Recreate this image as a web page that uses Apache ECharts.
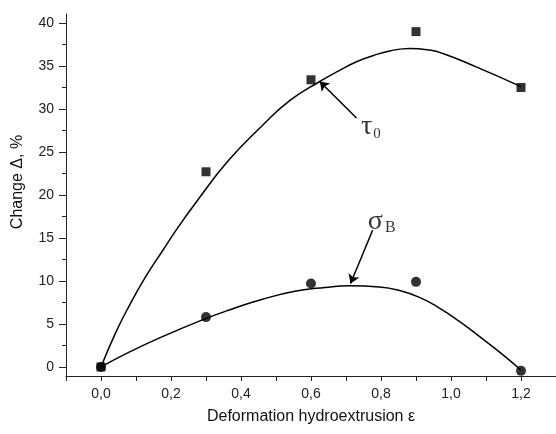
<!DOCTYPE html>
<html>
<head>
<meta charset="utf-8">
<script src="https://cdn.jsdelivr.net/npm/echarts@6/dist/echarts.min.js"></script>
<style>html,body{margin:0;padding:0;background:#fff;}#c{width:556px;height:434px;}</style>
</head>
<body>
<div id="c"></div>
<script>
// measured points
const xPts = [0, 0.3, 0.6, 0.9, 1.2];
const tauVals = [0, 22.7, 33.4, 39.0, 32.5];
const sigmaVals = [0, 5.8, 9.7, 9.9, -0.45];
// fitted curves
const tauCurveX = [0, 0.041, 0.079, 0.126, 0.174, 0.221, 0.278, 0.364, 0.459, 0.54, 0.625, 0.682, 0.73, 0.777, 0.825, 0.882, 0.939, 0.977, 1.072, 1.2];
const tauCurveY = [0, 3.9, 7.0, 10.4, 13.4, 16.3, 19.5, 24.0, 28.0, 31.0, 33.2, 34.5, 35.5, 36.2, 36.75, 37.05, 36.85, 36.45, 34.9, 32.6];
const sigmaCurveX = [0, 0.079, 0.174, 0.288, 0.364, 0.459, 0.554, 0.64, 0.71, 0.796, 0.853, 0.91, 0.967, 1.024, 1.081, 1.138, 1.2];
const sigmaCurveY = [0, 1.7, 3.5, 5.45, 6.6, 7.85, 8.8, 9.25, 9.45, 9.31, 8.9, 8.1, 6.85, 5.3, 3.55, 1.75, -0.35];
// tick labels
const xLabels = [0, 0.2, 0.4, 0.6, 0.8, 1.0, 1.2];
const xTicks = [-0.1, 0, 0.1, 0.2, 0.3, 0.4, 0.5, 0.6, 0.7, 0.8, 0.9, 1.0, 1.1, 1.2, 1.3];
const yLabels = [0, 5, 10, 15, 20, 25, 30, 35, 40];
const yMinorTicks = [2.5, 7.5, 12.5, 17.5, 22.5, 27.5, 32.5, 37.5];
// annotations
const tauArrow = [[0.73, 28.95], [0.625, 33.2]];
const sigmaArrow = [[0.776, 15.9], [0.713, 9.7]];
const tauLabelPos = [0.771, 27.9];
const sigmaLabelPos = [0.802, 16.9];

const zip = (a, b) => a.map((v, i) => [v, b[i]]);
const chart = echarts.init(document.getElementById('c'));
const font = 'Liberation Sans, Arial, sans-serif';
const serif = 'Liberation Serif, Times New Roman, serif';
const axisColor = '#222';

chart.setOption({
  animation: false,
  grid: { left: 66, right: 0, top: 14, bottom: 58 },
  xAxis: {
    type: 'value', min: -0.1, max: 1.3,
    name: 'Deformation hydroextrusion ε', nameLocation: 'middle', nameGap: 33,
    nameTextStyle: { fontFamily: font, fontSize: 16, color: '#111' },
    axisLine: { show: true, onZero: false, lineStyle: { color: axisColor, width: 1 } },
    axisTick: { show: true, length: 5, lineStyle: { color: axisColor }, customValues: xTicks },
    axisLabel: { fontFamily: font, fontSize: 14, color: '#222', margin: 11, customValues: xLabels,
      formatter: v => v.toFixed(1).replace('.', ',') },
    splitLine: { show: false }
  },
  yAxis: [{
    type: 'value', min: -1.05, max: 41.05,
    name: 'Change Δ, %', nameLocation: 'middle', nameGap: 40,
    nameTextStyle: { fontFamily: font, fontSize: 16, color: '#111', padding: [0, 0, 0, 26] },
    axisLine: { show: true, onZero: false, lineStyle: { color: axisColor, width: 1 } },
    axisTick: { show: true, length: 7, lineStyle: { color: axisColor }, customValues: yLabels },
    axisLabel: { fontFamily: font, fontSize: 14, color: '#222', margin: 12, customValues: yLabels },
    splitLine: { show: false }
  }, {
    type: 'value', min: -1.05, max: 41.05, position: 'left', offset: 0,
    axisLine: { show: false, onZero: false },
    axisTick: { show: true, length: 4, lineStyle: { color: axisColor }, customValues: yMinorTicks },
    axisLabel: { show: false },
    splitLine: { show: false }
  }],
  series: [
    {
      type: 'line', data: zip(tauCurveX, tauCurveY), smooth: 0.5, smoothConstraint: false, showSymbol: false, symbol: 'none',
      lineStyle: { color: '#000', width: 1.5 }, silent: true, z: 2,
      markLine: {
        silent: true, symbol: ['none', 'arrow'], symbolSize: 9,
        lineStyle: { color: '#000', width: 1.5, type: 'solid' }, label: { show: false },
        data: [[{ coord: tauArrow[0] }, { coord: tauArrow[1] }]]
      }
    },
    {
      type: 'line', data: zip(sigmaCurveX, sigmaCurveY), smooth: 0.5, smoothConstraint: false, showSymbol: false, symbol: 'none',
      lineStyle: { color: '#000', width: 1.5 }, silent: true, z: 2,
      markLine: {
        silent: true, symbol: ['none', 'arrow'], symbolSize: 9,
        lineStyle: { color: '#000', width: 1.5, type: 'solid' }, label: { show: false },
        data: [[{ coord: sigmaArrow[0] }, { coord: sigmaArrow[1] }]]
      }
    },
    {
      type: 'scatter', data: zip(xPts, tauVals), symbol: 'rect', symbolSize: 9,
      itemStyle: { color: '#000' }, z: 3, silent: true
    },
    {
      type: 'scatter', data: zip(xPts, sigmaVals), symbol: 'circle', symbolSize: 10,
      itemStyle: { color: '#000' }, z: 3, silent: true
    },
    {
      type: 'scatter', symbolSize: 0, silent: true, z: 4,
      data: [
        { value: tauLabelPos, label: { formatter: '{a|τ}{b|0}' } },
        { value: sigmaLabelPos, label: { formatter: '{a|σ}{c|B}' } }
      ],
      label: {
        show: true, position: 'inside', color: '#000',
        rich: {
          a: { fontFamily: serif, fontSize: 28, color: '#000' },
          b: { fontFamily: serif, fontSize: 15, color: '#000', verticalAlign: 'bottom', padding: [12, 0, 0, 1] },
          c: { fontFamily: serif, fontSize: 16, color: '#000', verticalAlign: 'bottom', padding: [12, 0, 0, 2] }
        }
      }
    }
  ]
});
</script>
</body>
</html>
